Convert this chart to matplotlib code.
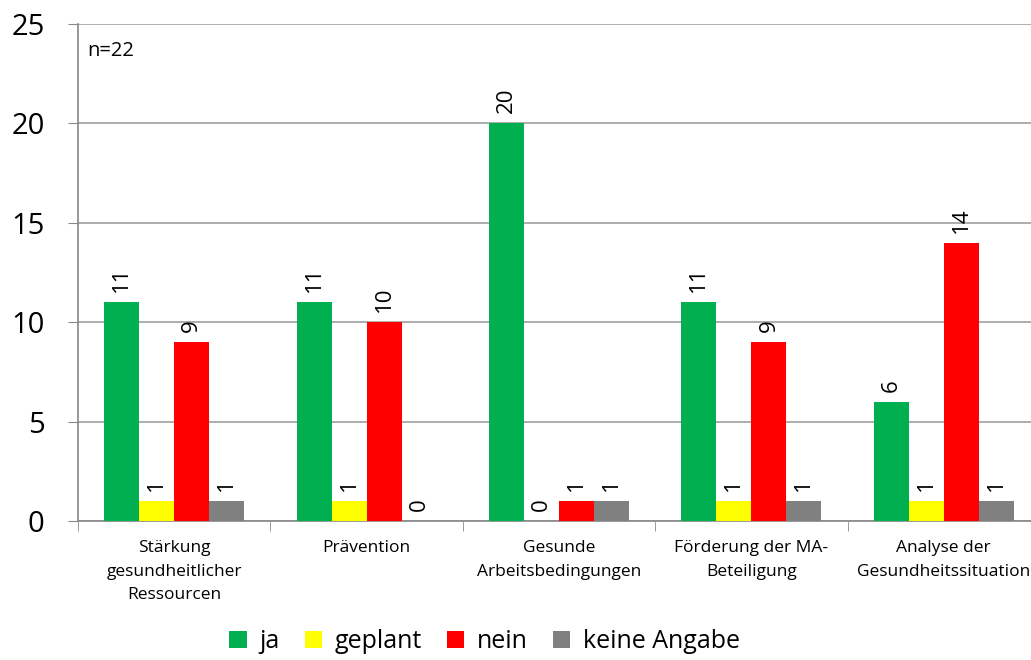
import numpy as np
import matplotlib.pyplot as plt

## Data
categories = ['Stärkung\ngesundheitlicher\nRessourcen', 'Prävention',
              'Gesunde\nArbeitsbedingungen', 'Förderung der MA-\nBeteiligung',
              'Analyse der\nGesundheitssituation']
series = ['ja', 'geplant', 'nein', 'keine Angabe']
ja = [11, 11, 20, 11, 6]
geplant = [1, 1, 0, 1, 1]
nein = [9, 10, 1, 9, 14]
keine_angabe = [1, 0, 1, 1, 1]
values = [ja, geplant, nein, keine_angabe]
colors = ['#00b050', '#ffff00', '#ff0000', '#808080']

plt.rcParams['font.family'] = ['Open Sans', 'DejaVu Sans']

fig = plt.figure(figsize=(10.31, 6.6), dpi=100)
ax = fig.add_axes([0.0757, 0.2106, 0.933, 0.753])

x = np.arange(len(categories))
w = 0.182
for i, (name, vals) in enumerate(zip(series, values)):
    pos = x + (i - 1.5) * w
    ax.bar(pos, vals, width=w, color=colors[i], label=name, zorder=3)
    for p, v in zip(pos, vals):
        ax.text(p, v + 0.5, str(v), rotation=90, ha='center', va='bottom',
                fontsize=16)

ax.set_xlim(-0.5, len(categories) - 0.5)
ax.set_ylim(0, 25)
ax.set_yticks(range(0, 26, 5))
ax.tick_params(axis='y', labelsize=21, length=7, color='#888888', pad=17)
ax.yaxis.grid(True, color='#a0a0a0', linewidth=1.2, zorder=0)

ax.set_xticks(x)
ax.set_xticklabels(categories, fontsize=12.5, linespacing=1.6)
ax.tick_params(axis='x', length=0, pad=14)
ax.set_xticks(np.arange(len(categories) + 1) - 0.5, minor=True)
ax.tick_params(axis='x', which='minor', length=7, color='#888888')

for s in ['top', 'right']:
    ax.spines[s].set_visible(False)
for s in ['left', 'bottom']:
    ax.spines[s].set_color('#888888')
    ax.spines[s].set_linewidth(1.2)

ax.text(0.01, 0.965, 'n=22', transform=ax.transAxes, fontsize=14.5,
        ha='left', va='top')

fig.legend(loc='lower center', bbox_to_anchor=(0.47, -0.025), ncol=4,
           frameon=False, fontsize=18, handlelength=0.7, handleheight=0.7,
           handletextpad=0.5, columnspacing=1.0)

fig.savefig('out.png', dpi=100)
